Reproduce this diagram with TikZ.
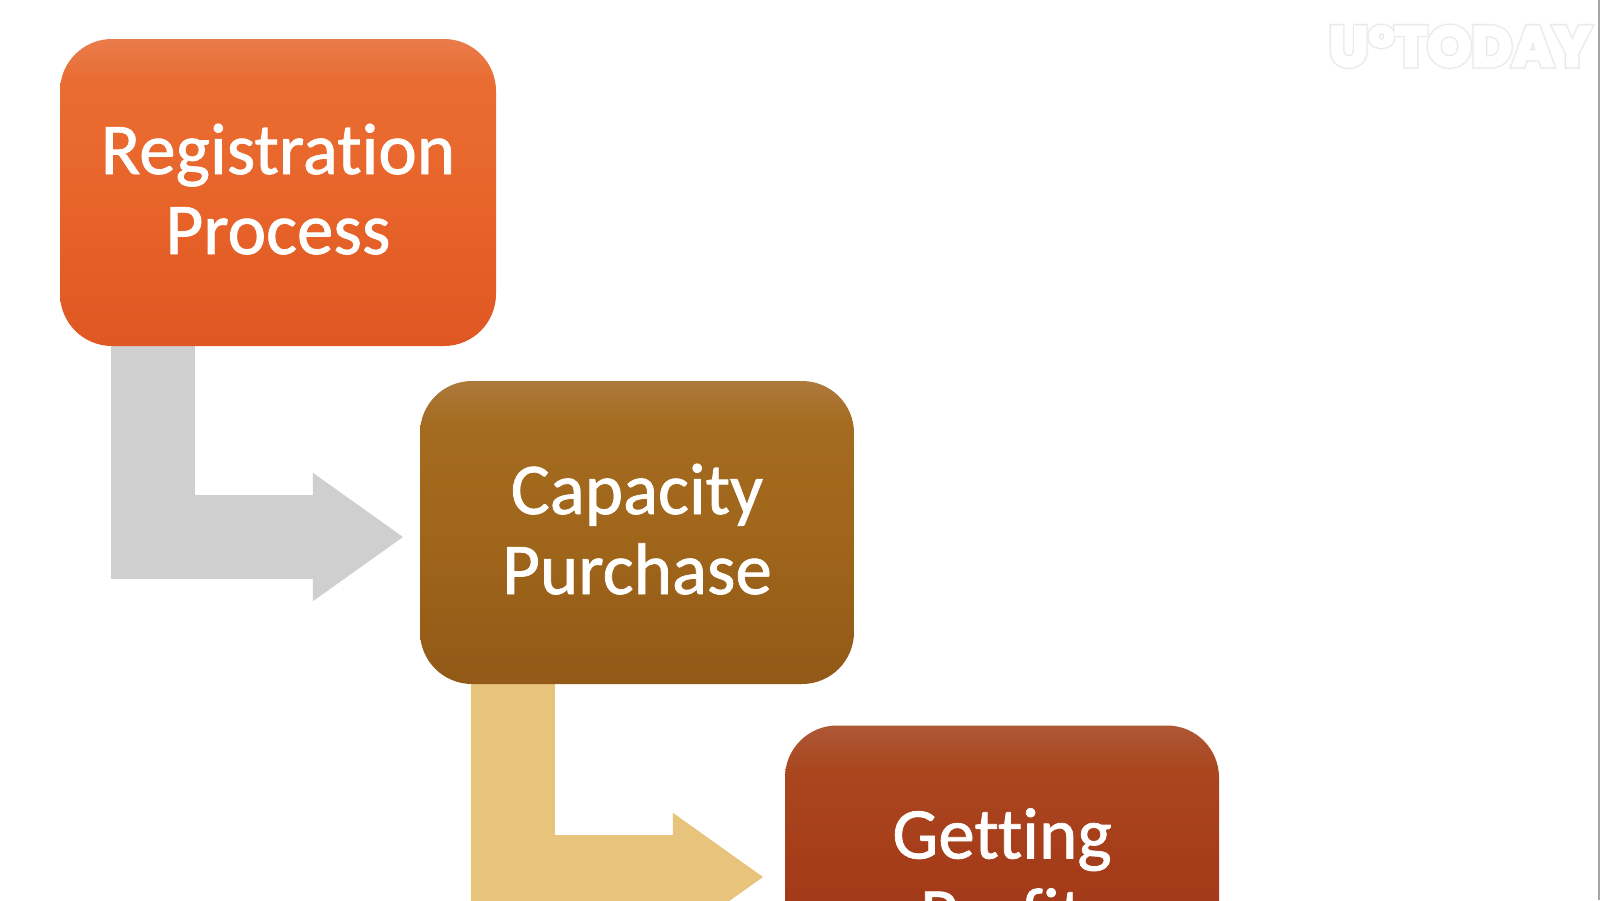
\documentclass[tikz,border=0pt]{standalone}
\usepackage{fontspec}
\setmainfont{Carlito}[Ligatures=NoCommon,FakeBold=1]
\newfontfamily\wmfont{Poppins}[UprightFont=* Bold,FakeBold=5]
\newfontfamily\wmhalo{Poppins}[UprightFont=* Bold,FakeBold=11]
\newfontfamily\wmhaloin{Poppins}[UprightFont=* Bold,FakeBold=8]
\usetikzlibrary{arrows.meta}
\definecolor{arrowgray}{HTML}{CFCFCF}
\definecolor{arrowtan}{HTML}{E8C37B}
\definecolor{c0a}{HTML}{E97C4B}
\definecolor{c1a}{HTML}{E96C32}
\definecolor{c2a}{HTML}{E8652A}
\definecolor{c3a}{HTML}{DF5723}
\definecolor{c0b}{HTML}{AD7A3C}
\definecolor{c1b}{HTML}{A46C20}
\definecolor{c2b}{HTML}{A0661B}
\definecolor{c3b}{HTML}{925917}
\definecolor{c0c}{HTML}{AE5836}
\definecolor{c1c}{HTML}{AA471F}
\definecolor{c2c}{HTML}{A53B19}
\definecolor{c3c}{HTML}{983516}
\pgfdeclareverticalshading{shadeA}{100bp}{color(0bp)=(c3a);color(25bp)=(c3a);color(50bp)=(c2a);color(68bp)=(c1a);color(75bp)=(c0a);color(100bp)=(c0a)}
\pgfdeclareverticalshading{shadeB}{100bp}{color(0bp)=(c3b);color(25bp)=(c3b);color(50bp)=(c2b);color(68bp)=(c1b);color(75bp)=(c0b);color(100bp)=(c0b)}
\pgfdeclareverticalshading{shadeC}{100bp}{color(0bp)=(c3c);color(25bp)=(c3c);color(50bp)=(c2c);color(68bp)=(c1c);color(75bp)=(c0c);color(100bp)=(c0c)}
\pgfdeclarelayer{front}\pgfsetlayers{main,front}
\newcommand{\twolines}[2]{\raisebox{0pt}[60pt][17pt]{#1}\\\raisebox{0pt}[60pt][17pt]{#2}}
\tikzset{
  stepbox/.style={rectangle,rounded corners=52pt,inner sep=0pt,text=white,align=center,
    font=\fontsize{73}{80}\selectfont},
  bentarrow/.style={line width=84pt,line join=miter,line cap=butt,
    -{Triangle[length=91pt,width=122pt]}},
  watermark/.style={inner sep=0pt,font=\wmfont\fontsize{56}{60}\selectfont,text=white},
  watermarkhalo/.style={inner sep=0pt,font=\wmhalo\fontsize{56}{60}\selectfont,text=black!4},
  watermarkhaloin/.style={inner sep=0pt,font=\wmhaloin\fontsize{56}{60}\selectfont,text=black!10},
}
\begin{document}
\begin{tikzpicture}[x=1pt,y=-1pt]
\path[use as bounding box,clip] (0,0) rectangle (1600,900);
\fill[white] (0,0) rectangle (1600,900);
\begin{pgfonlayer}{front}
\node[stepbox,shading=shadeA,minimum width=436pt,minimum height=307pt] (reg) at (278,192.5) {\twolines{Registration}{Process}};
\node[stepbox,shading=shadeB,minimum width=434pt,minimum height=303pt] (cap) at (637,532.5) {\twolines{Capacity}{Purchase}};
\node[stepbox,shading=shadeC,minimum width=434pt,minimum height=303pt] (get) at (1002,877) {\twolines{Getting}{Profit}};
\end{pgfonlayer}
\coordinate (regout) at ([xshift=-125.4pt]reg.south);
\coordinate (capin) at ([yshift=-4.5pt]cap.west);
\coordinate (capout) at ([xshift=-123.8pt]cap.south);
\coordinate (getin) at (get.west);
\draw[bentarrow,arrowgray,shorten >=16pt] (regout) |- (capin);
\draw[bentarrow,arrowtan,shorten >=21pt] (capout) |- (getin);
\fill[black!35] (1597.5,0) rectangle (1600,900);
\node[watermarkhalo,anchor=base] (halo) at (1460,66) {U°TODAY};
\node[watermarkhaloin,anchor=base] (haloin) at (halo.base) {U°TODAY};
\node[watermark,anchor=base] (mark) at (halo.base) {U°TODAY};
\end{tikzpicture}
\end{document}
